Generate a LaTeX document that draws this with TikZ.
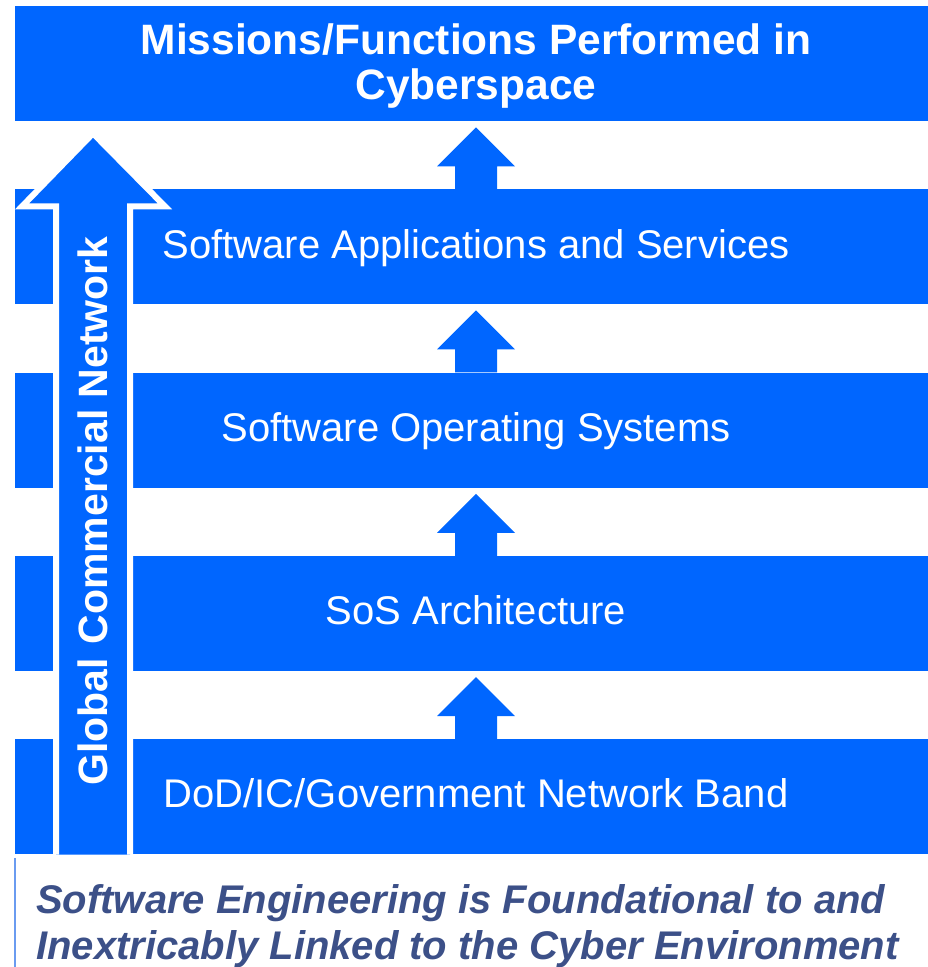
\documentclass[tikz,border=0pt]{standalone}
\usepackage{fontspec}
\setmainfont{Liberation Sans}
\usetikzlibrary{positioning, calc}
\definecolor{layerblue}{HTML}{0066FF}
\definecolor{mottoslate}{HTML}{3C5088}
\definecolor{edgeblue}{HTML}{6A9BF0}

\begin{document}
\begin{tikzpicture}[
  x=1pt, y=-1pt,
  band/.style={
    rectangle, fill=layerblue, inner sep=0pt,
    minimum height=115pt, minimum width=#1,
  },
  band/.default={795pt},
  stub/.style={band=38pt},
  bandtext/.style={text=white, font=\fontsize{40}{44}\selectfont, anchor=base},
  lift/.style={fill=layerblue},
  trunk/.style={fill=layerblue, draw=white, line width=6pt, line join=miter},
  node distance=68pt and 80pt,
]
  \useasboundingbox (0,0) rectangle (928,967);

  % Missions band (top)
  \node[band=913pt, anchor=north west] (mission) at (15,6) {};

  % Layer bands, stacked downwards
  \node[band, anchor=north west] (apps) at (133,189) {};
  \node[band, below=of apps] (os) {};
  \node[band, below=of os] (sos) {};
  \node[band, below=of sos] (net) {};

  % Left-hand stubs beside the trunk arrow
  \node[stub, left=of apps] (appsstub) {};
  \node[stub, left=of os] (osstub) {};
  \node[stub, left=of sos] (sosstub) {};
  \node[stub, left=of net] (netstub) {};

  \coordinate (axis) at (476,0);
  \coordinate (trunkx) at (93,0);

  % Global network trunk arrow
  \filldraw[trunk] let \p1=(net.south -| trunkx), \p2=(mission.south -| trunkx) in
    (\x1-37pt,\y1) -- (\x1-37pt,\y2-85pt) -- (\x1-71pt,\y2-85pt) -- (\x1,\y2-12pt)
    -- (\x1+72pt,\y2-85pt) -- (\x1+37pt,\y2-85pt) -- (\x1+37pt,\y1);

  % Block arrows between layers
  \foreach \lo/\hi in {apps/mission, os/apps, sos/os, net/sos} {
    \fill[lift] let \p1=(\lo.north -| axis), \p2=(\hi.south -| axis) in
      (\x1-21pt,\y1) -- (\x1-21pt,\y2-45pt) -- (\x1-39pt,\y2-45pt) -- (\x1,\y2-6pt)
      -- (\x1+39pt,\y2-45pt) -- (\x1+21pt,\y2-45pt) -- (\x1+21pt,\y1) -- cycle;
  }

  % Labels
  \node[text=white, font=\bfseries\fontsize{42.5}{45}\selectfont, align=center]
    (missiontitle) at (476,66) {Missions/Functions Performed in\\Cyberspace};
  \node[bandtext] (appslabel) at (476,258) {Software Applications and Services};
  \node[bandtext] (oslabel) at (476,441) {Software Operating Systems};
  \node[bandtext] (soslabel) at (476,624) {SoS Architecture};
  \node[bandtext] (netlabel) at (476,807) {DoD/IC/Government Network Band};
  \node[rotate=90, text=white, font=\bfseries\fontsize{41}{44}\selectfont]
    (trunklabel) at (93,511) {Global\hspace{14pt}Commercial Network};

  % Motto under the stack
  \draw[edgeblue, line width=1.5pt] (15,858) -- (15,967);
  \node[text=mottoslate, font=\bfseries\itshape\fontsize{40}{46}\selectfont,
    align=left, inner sep=0pt, anchor=north west] (motto) at (36,884)
    {Software Engineering is Foundational to and\\Inextricably Linked to the Cyber Environment};
\end{tikzpicture}
\end{document}
